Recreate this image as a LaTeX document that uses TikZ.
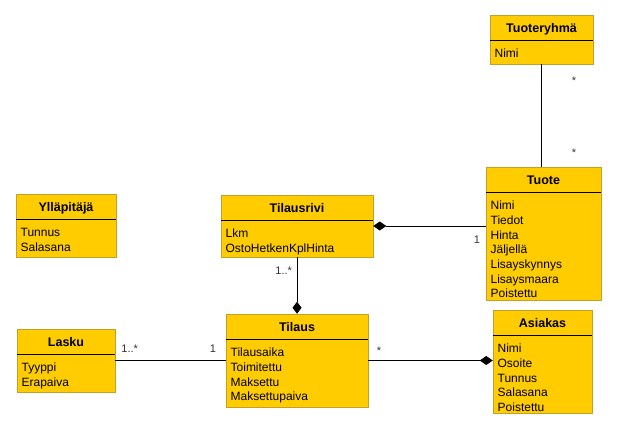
\documentclass[tikz,border=0pt]{standalone}
\usepackage{fontspec}
\setmainfont{Liberation Sans}
\usepackage{xcolor}
\usepackage{tikz}
\usetikzlibrary{arrows.meta,fit,shadows,positioning}

\definecolor{luokkakelta}{RGB}{255,204,0}
\definecolor{luokkareuna}{RGB}{196,160,40}

% luokka: nimi, vasen, yla, oikea, ala, otsikko, attribuutit
\newcommand{\luokka}[7]{%
	\node[luokka, fit={(#2,#3) (#4,#5)}] (#1) {};
	\draw ([yshift=-26pt]#1.north west) -- ([yshift=-26pt]#1.north east);
	\node[otsikko] (#1-otsikko) at ([yshift=-17.5pt]#1.north) {#6};
	\foreach \a [count=\i] in {#7}
		\node[attribuutti] (#1-\i) at ([xshift=4.5pt,yshift={-43pt-(\i-1)*14.7pt}]#1.north west) {\a};
}

\begin{document}
\begin{tikzpicture}[x=1pt, y=-1pt, line width=0.8pt]
			\tikzstyle{luokka}=[draw=luokkareuna, line width=0.5pt, fill=luokkakelta, inner sep=0pt,
				drop shadow={shadow xshift=1pt, shadow yshift=-1pt, fill=black!45, opacity=1}]
			\tikzstyle{otsikko}=[anchor=base, inner sep=0pt, font=\fontsize{12.5}{15}\selectfont\bfseries]
			\tikzstyle{attribuutti}=[anchor=base west, inner sep=0pt, font=\fontsize{12}{14.7}\selectfont]
			\tikzstyle{kerroin}=[anchor=base, inner sep=0pt, text=black!80, font=\fontsize{11}{13}\selectfont]
			
			\useasboundingbox (0,0) rectangle (617,430);
			
			\luokka{tuoteryhma}{490}{15}{593}{64}{Tuoteryhmä}{Nimi}
			\luokka{tuote}{486}{167}{601}{300}{Tuote}{Nimi,Tiedot,Hinta,Jäljellä,Lisayskynnys,Lisaysmaara,Poistettu}
			\luokka{yllapitaja}{16}{194}{116}{257}{Ylläpitäjä}{Tunnus,Salasana}
			\luokka{tilausrivi}{221}{195}{373}{257}{Tilausrivi}{Lkm,OstoHetkenKplHinta}
			\luokka{tilaus}{226}{314}{368}{407}{Tilaus}{Tilausaika,Toimitettu,Maksettu,Maksettupaiva}
			\luokka{lasku}{17}{329}{115}{392}{Lasku}{Tyyppi,Erapaiva}
			\luokka{asiakas}{493}{310}{592}{413}{Asiakas}{Nimi,Osoite,Tunnus,Salasana,Poistettu}
			
			\draw (tuoteryhma.south) -- (tuoteryhma.south |- tuote.north);
			\draw[{Diamond[length=13pt,width=9pt]}-] (tilausrivi.east) -- (tilausrivi.east -| tuote.west);
			\draw[{Diamond[length=12pt,width=9pt]}-] (tilaus.north) -- (tilausrivi.south);
			\draw (lasku.east) -- (lasku.east -| tilaus.west);
			\draw[-{Diamond[length=13pt,width=9pt]}] (tilaus.east) -- (tilaus.east -| asiakas.west);
			
			\node[kerroin] (k1) at (574,85) {*};
			\node[kerroin] (k2) at (574,157) {*};
			\node[kerroin] (k3) at (477,243) {1};
			\node[kerroin, anchor=base west] (k4) at (275,274) {1..*};
			\node[kerroin, anchor=base west] (k5) at (121,352) {1..*};
			\node[kerroin] (k6) at (213,352) {1};
			\node[kerroin] (k7) at (379,354) {*};
			\end{tikzpicture}
\end{document}
